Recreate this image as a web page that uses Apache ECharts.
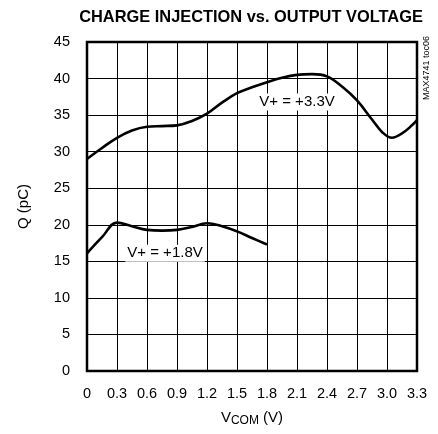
<!DOCTYPE html>
<html>
<head>
<meta charset="utf-8">
<script src="https://cdn.jsdelivr.net/npm/echarts@6/dist/echarts.min.js"></script>
<style>
  html, body { margin: 0; padding: 0; background: #fff; }
  #chart { width: 438px; height: 434px; }
</style>
</head>
<body>
<div id="chart"></div>
<script>
// data
const xTicks = [0, 0.3, 0.6, 0.9, 1.2, 1.5, 1.8, 2.1, 2.4, 2.7, 3.0, 3.3];
const xTickLabels = ['0', '0.3', '0.6', '0.9', '1.2', '1.5', '1.8', '2.1', '2.4', '2.7', '3.0', '3.3'];
const yTicks = [0, 5, 10, 15, 20, 25, 30, 35, 40, 45];

// V+ = +3.3V curve
const vcom33 = [0, 0.15, 0.3, 0.45, 0.6, 0.75, 0.9, 1.05, 1.2, 1.35, 1.5, 1.65, 1.8, 1.95, 2.1, 2.25, 2.4, 2.55, 2.7, 2.85, 2.95, 3.05, 3.15, 3.25, 3.3];
const q33 =    [29.0, 30.5, 31.9, 32.9, 33.4, 33.5, 33.6, 34.2, 35.2, 36.7, 38.0, 38.8, 39.5, 40.1, 40.5, 40.6, 40.3, 38.9, 37.0, 34.4, 32.7, 31.9, 32.5, 33.6, 34.3];

// V+ = +1.8V curve
const vcom18 = [0, 0.15, 0.3, 0.45, 0.6, 0.75, 0.9, 1.05, 1.2, 1.35, 1.5, 1.65, 1.8];
const q18 =    [16.1, 18.3, 20.3, 19.8, 19.3, 19.2, 19.3, 19.7, 20.2, 19.8, 19.1, 18.2, 17.3];

const labels = [
  { text: 'V+ = +3.3V', at: [2.1, 36.8] },
  { text: 'V+ = +1.8V', at: [0.78, 16.1] }
];

const FONT = '"Liberation Sans", Arial, sans-serif';

function pairs(xs, ys) {
  return xs.map((x, i) => [x, ys[i]]);
}

const chart = echarts.init(document.getElementById('chart'));

chart.setOption({
  animation: false,
  title: {
    text: 'CHARGE INJECTION vs. OUTPUT VOLTAGE',
    left: 246, top: 4,
    textAlign: 'center',
    textStyle: { fontFamily: FONT, fontWeight: 'bold', fontSize: 16.4, color: '#000' }
  },
  grid: { left: 87, right: 21, top: 42, bottom: 63 },
  xAxis: {
    type: 'value',
    min: 0, max: 3.3, interval: 0.3,
    name: '{v|V}{s|COM}{v| (V)}',
    nameLocation: 'middle',
    nameGap: 38,
    nameTextStyle: {
      rich: {
        v: { fontFamily: FONT, fontSize: 15, color: '#000' },
        s: { fontFamily: FONT, fontSize: 12, color: '#000', verticalAlign: 'bottom', padding: [6, 0, 0, 0] }
      }
    },
    axisLine: { show: false },
    axisTick: { show: false },
    axisLabel: {
      fontFamily: FONT, fontSize: 14.5, color: '#000', margin: 15,
      formatter: v => {
        const i = xTicks.findIndex(t => Math.abs(t - v) < 1e-6);
        return i >= 0 ? xTickLabels[i] : '';
      }
    },
    splitLine: { show: true, lineStyle: { color: '#000', width: 1 } }
  },
  yAxis: {
    type: 'value',
    min: yTicks[0], max: yTicks[yTicks.length - 1], interval: 5,
    name: 'Q (pC)',
    nameLocation: 'middle',
    nameGap: 56,
    nameTextStyle: { fontFamily: FONT, fontSize: 15, color: '#000' },
    axisLine: { show: false },
    axisTick: { show: false },
    axisLabel: { fontFamily: FONT, fontSize: 14.5, color: '#000', margin: 17 },
    splitLine: { show: true, lineStyle: { color: '#000', width: 1 } }
  },
  graphic: [
    {
      type: 'rect', silent: true, z: 10,
      shape: { x: 87, y: 42, width: 330, height: 329 },
      style: { fill: 'none', stroke: '#000', lineWidth: 2.5 }
    },
    {
      type: 'text', silent: true,
      x: 427, y: 68, rotation: Math.PI / 2,
      style: { text: 'MAX4741 toc06', fontFamily: FONT, fontSize: 9, fill: '#000', align: 'center', verticalAlign: 'middle' }
    }
  ],
  series: [
    {
      type: 'line',
      data: pairs(vcom33, q33),
      smooth: 0.4,
      symbol: 'none',
      lineStyle: { color: '#000', width: 2.6 },
      z: 5,
      markPoint: {
        symbol: 'rect', symbolSize: 1,
        itemStyle: { color: 'rgba(0,0,0,0)' },
        label: {
          show: true, position: 'inside',
          fontFamily: FONT, fontSize: 15, color: '#000',
          backgroundColor: '#fff', padding: [1, 2],
          formatter: p => p.name
        },
        data: [{ name: labels[0].text, coord: labels[0].at }]
      }
    },
    {
      type: 'line',
      data: pairs(vcom18, q18),
      smooth: 0.4,
      symbol: 'none',
      lineStyle: { color: '#000', width: 2.6 },
      z: 5,
      markPoint: {
        symbol: 'rect', symbolSize: 1,
        itemStyle: { color: 'rgba(0,0,0,0)' },
        label: {
          show: true, position: 'inside',
          fontFamily: FONT, fontSize: 15, color: '#000',
          backgroundColor: '#fff', padding: [1, 2],
          formatter: p => p.name
        },
        data: [{ name: labels[1].text, coord: labels[1].at }]
      }
    }
  ]
});
</script>
</body>
</html>
